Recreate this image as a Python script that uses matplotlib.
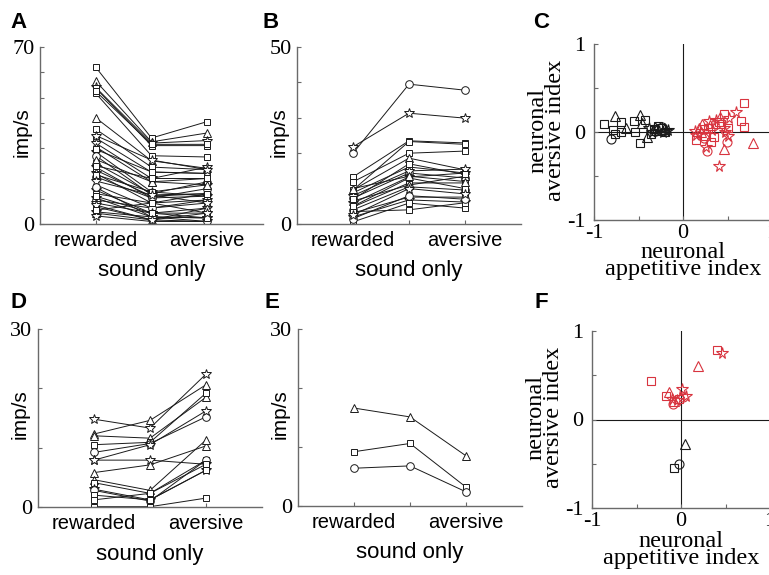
import matplotlib
matplotlib.use("Agg")
import matplotlib.pyplot as plt

plt.rcParams["axes.unicode_minus"] = False

CATEGORIES = ["rewarded", "sound only", "aversive"]

# panel A: rewarded / sound only / aversive (imp/s), marker per neuron
A_REW = [62, 56.5, 54, 53.7, 51.7, 52.5, 42, 37.5, 34, 32, 30.5, 28.5, 27, 24, 22.5,
         21.3, 20, 18.7, 15.5, 13.4, 12, 10.3, 9.5, 8.3, 6.8, 4.8, 4.3, 3.2, 29.5,
         25.5, 19.5, 17, 14.5, 11, 7.5, 5.5, 35, 23]
A_MID = [34, 32.5, 32, 31, 27, 31.5, 25, 22.5, 20.5, 18, 16.7, 12.7, 11.5, 12, 10.3,
         11, 8.3, 10.3, 6.3, 4.3, 8.3, 2.8, 6.3, 4.3, 1.6, 2.8, 1.6, 1.0, 20.6,
         16.7, 12.7, 11.5, 2.8, 4.3, 1.6, 8.3, 25.3, 18]
A_AV = [40.5, 36, 33, 31, 26.5, 31.5, 22, 21.5, 20, 22.5, 18, 15.5, 12, 16.7, 11,
        12, 9.5, 14, 8.3, 6.3, 4.3, 2.4, 9.5, 4.3, 1, 2.4, 6.3, 1, 20,
        15.5, 11, 8.3, 1, 2.4, 4.3, 12, 21.5, 18]
A_MK = ["s", "^", "*", "s", "s", "s", "^", "s", "s", "*", "^", "*", "o", "s", "*",
        "s", "*", "o", "^", "*", "s", "*", "o", "*", "s", "*", "^", "*", "s",
        "^", "s", "*", "o", "s", "*", "s", "*", "s"]

# panel B
B_REW = [20, 21.8, 13.3, 11.9, 9.6, 9.6, 8.8, 7.3, 5.9, 4.8, 4, 3.1, 2, 0.6, 8, 6.5,
         3.5, 1.5, 5, 2.5, 7, 10]
B_MID = [39.5, 31.3, 23.5, 20, 23.3, 18.6, 16.1, 14.4, 13.3, 11.6, 10.5, 7.6, 6.8,
         5.9, 15, 11, 4, 8, 13, 10, 17, 13.5]
B_AV = [37.8, 29.9, 22.9, 20.6, 22.5, 15.3, 14.4, 13, 14.4, 11.6, 9.6, 7.6, 6.2,
        4.5, 15.5, 13.5, 6, 7, 10, 8.5, 14, 12]
B_MK = ["o", "*", "s", "s", "s", "^", "s", "o", "*", "s", "o", "s", "*", "s", "*",
        "^", "s", "o", "s", "*", "s", "^"]

# panel D
D_REW = [14.8, 12.3, 12.0, 10.5, 9.2, 7.9, 7.9, 5.8, 4.6, 4.1, 3.0, 2.8, 2.0, 1.2, 0.05]
D_MID = [13.3, 14.6, 11.6, 10.9, 10.7, 10.5, 7.9, 7.1, 2.8, 2.3, 1.2, 1.0, 1.2, 2.3, 0.05]
D_AV = [22.4, 20.6, 18.5, 19.2, 15.2, 16.2, 7.2, 10.3, 11.3, 7.9, 6.2, 7.9, 6.2, 7.2, 1.5]
D_MK = ["*", "^", "^", "s", "o", "*", "*", "^", "^", "s", "*", "o", "s", "s", "s"]

# panel E
E_REW = [16.6, 9.2, 6.4]
E_MID = [15.1, 10.6, 6.8]
E_AV = [8.5, 3.2, 2.4]
E_MK = ["^", "s", "o"]

# panel C: appetitive index (x), aversive index (y)
C_BLACK_X = [-0.89, -0.76, -0.70, -0.64, -0.79, -0.81, -0.76, -0.70, -0.48, -0.55,
             -0.43, -0.46, -0.54, -0.48, -0.41, -0.28, -0.30, -0.38, -0.35, -0.33,
             -0.31, -0.27, -0.25, -0.23, -0.21, -0.19, -0.17, -0.36, -0.24, -0.20]
C_BLACK_Y = [0.09, 0.18, 0.11, 0.04, 0.02, -0.08, -0.02, 0.0, 0.19, 0.13,
             0.14, 0.10, 0.0, -0.12, -0.06, 0.07, 0.02, 0.05, 0.0, 0.03,
             0.06, 0.01, 0.04, 0.0, 0.03, 0.01, 0.02, -0.02, 0.06, 0.0]
C_BLACK_MK = ["s", "^", "s", "^", "s", "o", "s", "s", "^", "s",
              "s", "^", "s", "s", "^", "s", "^", "*", "*", "s",
              "^", "*", "s", "*", "^", "*", "*", "s", "o", "s"]
C_RED_X = [0.68, 0.59, 0.52, 0.46, 0.42, 0.65, 0.68, 0.79, 0.46, 0.40, 0.27, 0.26,
           0.49, 0.31, 0.15, 0.15, 0.21, 0.40, 0.37, 0.46, 0.28, 0.30, 0.47, 0.50,
           0.50, 0.24, 0.20, 0.14, 0.25, 0.24, 0.33, 0.35, 0.18, 0.43, 0.29]
C_RED_Y = [0.33, 0.23, 0.16, 0.21, 0.17, 0.12, 0.06, -0.13, -0.19, -0.39, -0.22, -0.17,
           -0.11, -0.11, -0.03, -0.09, 0.09, 0.11, 0.14, 0.05, 0.04, 0.08, 0.0, 0.05,
           -0.05, 0.03, 0.0, 0.01, -0.04, -0.07, 0.02, -0.06, 0.05, 0.09, 0.12]
C_RED_MK = ["s", "*", "*", "s", "^", "s", "s", "^", "^", "*", "o", "*",
            "o", "s", "*", "s", "^", "s", "*", "*", "s", "^", "*", "s",
            "*", "s", "^", "*", "s", "o", "*", "s", "^", "s", "*"]

# panel F
F_BLACK_X = [0.05, -0.02, -0.08]
F_BLACK_Y = [-0.28, -0.50, -0.55]
F_BLACK_MK = ["^", "o", "s"]
F_RED_X = [0.41, 0.46, 0.19, -0.34, 0.01, -0.14, -0.17, 0.06, 0.02, -0.10, -0.08,
           -0.09, -0.05, -0.02]
F_RED_Y = [0.78, 0.75, 0.60, 0.44, 0.35, 0.31, 0.27, 0.27, 0.25, 0.23, 0.21, 0.18,
           0.22, 0.23]
F_RED_MK = ["s", "*", "^", "s", "*", "^", "s", "*", "o", "*", "^", "o", "*", "s"]

RED = "#d8343f"
INK = "#1a1a1a"
SPINE = "#6a6a6a"
MS = {"s": 4.5, "^": 5.5, "o": 5.5, "*": 7.5}
SERIF = "Liberation Serif"
SANS = "Liberation Sans"

W, H = 769, 575


def px_axes(fig, left, top, right, bottom):
    return fig.add_axes([left / W, 1 - bottom / H, (right - left) / W, (bottom - top) / H])


def base_style(ax):
    for side in ("top", "right"):
        ax.spines[side].set_visible(False)
    for side in ("left", "bottom"):
        ax.spines[side].set_color(SPINE)
        ax.spines[side].set_linewidth(1.0)
    ax.tick_params(direction="in", length=3, width=0.8, color=SPINE)


def rate_panel(ax, rew, mid, av, markers, ymax):
    base_style(ax)
    for r, m, a, mk in zip(rew, mid, av, markers):
        ax.plot([1, 2, 3], [r, m, a], color=INK, lw=0.7, marker=mk, ms=MS[mk],
                mfc="white", mec=INK, mew=0.7)
    ax.set_xlim(0, 4)
    ax.set_ylim(0, ymax)
    ticks = list(range(0, ymax + 1, 10))
    ax.set_yticks(ticks)
    ax.set_yticklabels(["0"] + [""] * (len(ticks) - 2) + [str(ymax)],
                       fontfamily=SERIF, fontsize=16)
    ax.set_xticks([1, 2, 3])
    ax.set_xticklabels([CATEGORIES[0], "", CATEGORIES[2]],
                       fontfamily=SANS, fontsize=14.5)
    ax.tick_params(axis="x", pad=5)
    ax.tick_params(axis="y", pad=4)
    # the middle category is written on a second row, under its tick
    ax.set_xlabel(CATEGORIES[1], fontfamily=SANS, fontsize=16, va="center")
    ax.xaxis.set_label_coords(0.5, -0.265)
    ax.set_ylabel("imp/s", fontfamily=SANS, fontsize=15, va="center")
    ax.yaxis.set_label_coords(-0.08, 0.52)


def index_panel(ax, groups):
    base_style(ax)
    ax.axhline(0, color=INK, lw=0.8, zorder=1)
    ax.axvline(0, color=INK, lw=0.8, zorder=1)
    for xs, ys, mks, col in groups:
        for x, y, mk in zip(xs, ys, mks):
            ax.plot(x, y, linestyle="none", marker=mk, ms=MS[mk] + 1.0, mfc="none",
                    mec=col, mew=0.8, zorder=3)
    ax.set_xlim(-1, 1)
    ax.set_ylim(-1, 1)
    ax.set_xticks([-1, -0.5, 0, 0.5, 1])
    ax.set_xticklabels(["-1", "", "0", "", "1"], fontfamily=SERIF, fontsize=16)
    ax.set_yticks([-1, -0.5, 0, 0.5, 1])
    ax.set_yticklabels(["-1", "", "0", "", "1"], fontfamily=SERIF, fontsize=16)
    ax.tick_params(axis="x", pad=3)
    ax.tick_params(axis="y", pad=6)
    ax.set_xlabel("neuronal\nappetitive index", fontfamily=SERIF, fontsize=17.5,
                  linespacing=0.75, va="center")
    ax.xaxis.set_label_coords(0.5, -0.235)
    ax.set_ylabel("neuronal\naversive index", fontfamily=SERIF, fontsize=17.5,
                  linespacing=0.75, va="center")
    ax.yaxis.set_label_coords(-0.265, 0.51)


def main():
    fig = plt.figure(figsize=(W / 100, H / 100), dpi=100)

    ax_a = px_axes(fig, 40, 47, 263, 224)
    rate_panel(ax_a, A_REW, A_MID, A_AV, A_MK, 70)
    ax_b = px_axes(fig, 297, 47, 521, 224)
    rate_panel(ax_b, B_REW, B_MID, B_AV, B_MK, 50)
    ax_d = px_axes(fig, 38, 329, 262, 507)
    rate_panel(ax_d, D_REW, D_MID, D_AV, D_MK, 30)
    ax_e = px_axes(fig, 298, 329, 522, 506)
    rate_panel(ax_e, E_REW, E_MID, E_AV, E_MK, 30)

    ax_c = px_axes(fig, 594, 44, 772, 220)
    index_panel(ax_c, [(C_BLACK_X, C_BLACK_Y, C_BLACK_MK, INK),
                       (C_RED_X, C_RED_Y, C_RED_MK, RED)])
    ax_f = px_axes(fig, 592, 331, 770, 508)
    index_panel(ax_f, [(F_BLACK_X, F_BLACK_Y, F_BLACK_MK, INK),
                       (F_RED_X, F_RED_Y, F_RED_MK, RED)])

    for letter, x, y in [("A", 10, 22), ("B", 263, 22), ("C", 533, 22),
                         ("D", 10, 302), ("E", 264, 302), ("F", 535, 302)]:
        fig.text(x / W, 1 - y / H, letter, fontfamily=SANS, fontsize=16,
                 fontweight="bold", ha="left", va="center")

    fig.savefig("out.png", dpi=100, facecolor="white")
    plt.close(fig)


if __name__ == "__main__":
    main()
